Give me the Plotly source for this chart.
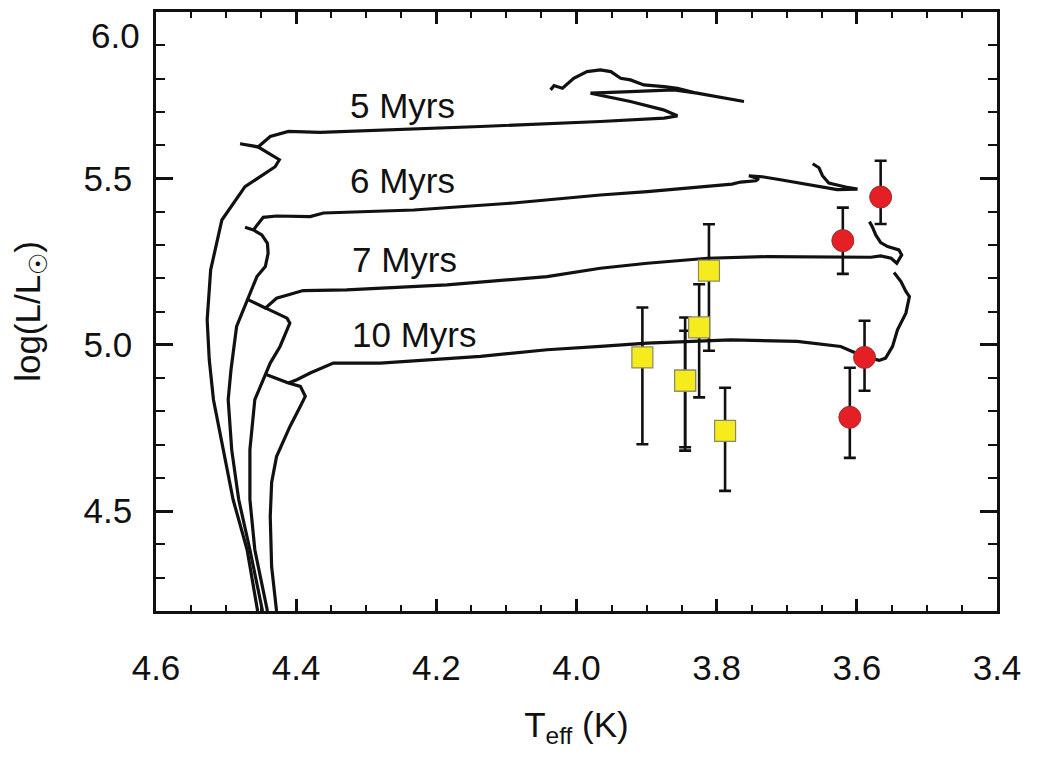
import plotly.graph_objects as go

# ---------------- data (log Teff, log L/Lsun) ----------------
# 5 Myr isochrone
t5_teff = [4.455, 4.470, 4.490, 4.504, 4.518, 4.524, 4.527, 4.522, 4.506, 4.473, 4.430, 4.424,
           4.454, 4.480, 4.454, 4.437, 4.411, 4.366, 4.280, 4.137, 3.966, 3.875, 3.856, 3.876,
           3.923, 3.978, 3.980, 3.923, 3.861, 3.828, 3.761, 3.828, 3.856, 3.875, 3.904, 3.923,
           3.937, 3.951, 3.966, 3.985, 4.004, 4.020, 4.028, 4.032, 4.037]
t5_lum = [4.200, 4.384, 4.535, 4.685, 4.835, 4.955, 5.075, 5.225, 5.375, 5.475, 5.535, 5.556,
          5.594, 5.604, 5.595, 5.626, 5.641, 5.638, 5.644, 5.656, 5.671, 5.681, 5.688, 5.706,
          5.731, 5.753, 5.756, 5.761, 5.766, 5.756, 5.731, 5.756, 5.771, 5.776, 5.781, 5.796,
          5.801, 5.821, 5.826, 5.821, 5.801, 5.771, 5.776, 5.779, 5.766]

# 6 Myr isochrone
t6_teff = [4.448, 4.466, 4.482, 4.492, 4.497, 4.493, 4.485, 4.470, 4.456, 4.444, 4.440, 4.441,
           4.449, 4.461, 4.473, 4.461, 4.447, 4.428, 4.380, 4.361, 4.232, 4.090, 3.966, 3.899,
           3.778, 3.766, 3.744, 3.740, 3.754, 3.735, 3.709, 3.661, 3.628, 3.599, 3.616, 3.640,
           3.649, 3.654, 3.661, 3.663]
t6_lum = [4.200, 4.384, 4.535, 4.685, 4.835, 4.925, 5.055, 5.135, 5.205, 5.235, 5.275, 5.305,
          5.330, 5.345, 5.353, 5.345, 5.383, 5.387, 5.385, 5.396, 5.405, 5.426, 5.450, 5.460,
          5.483, 5.489, 5.493, 5.499, 5.508, 5.505, 5.496, 5.478, 5.466, 5.468, 5.474, 5.486,
          5.508, 5.532, 5.541, 5.544]

# 7 Myr isochrone
t7_teff = [4.441, 4.459, 4.466, 4.466, 4.459, 4.451, 4.437, 4.423, 4.409, 4.413, 4.444, 4.468,
           4.444, 4.428, 4.390, 4.328, 4.185, 4.042, 3.966, 3.899, 3.813, 3.728, 3.623, 3.580,
           3.566, 3.551, 3.543, 3.536, 3.540, 3.556, 3.566, 3.573, 3.578, 3.582]
t7_lum = [4.200, 4.384, 4.535, 4.685, 4.835, 4.875, 4.945, 4.995, 5.065, 5.080, 5.110, 5.135,
          5.110, 5.140, 5.163, 5.165, 5.180, 5.205, 5.230, 5.245, 5.260, 5.265, 5.263, 5.263,
          5.267, 5.260, 5.245, 5.270, 5.285, 5.295, 5.307, 5.330, 5.355, 5.370]

# 10 Myr isochrone
t10_teff = [4.428, 4.435, 4.437, 4.435, 4.428, 4.409, 4.394, 4.387, 4.394, 4.411, 4.442, 4.411,
            4.399, 4.380, 4.347, 4.280, 4.137, 4.042, 3.966, 3.899, 3.780, 3.685, 3.623, 3.590,
            3.568, 3.559, 3.549, 3.542, 3.530, 3.525, 3.530, 3.537, 3.547]
t10_lum = [4.200, 4.333, 4.484, 4.586, 4.664, 4.754, 4.815, 4.845, 4.875, 4.885, 4.910, 4.885,
           4.895, 4.915, 4.945, 4.945, 4.965, 4.985, 4.995, 5.005, 5.015, 5.010, 4.995, 4.965,
           4.953, 4.960, 4.995, 5.045, 5.095, 5.145, 5.160, 5.190, 5.217]

iso_labels = ["5 Myrs", "6 Myrs", "7 Myrs", "10 Myrs"]
label_teff = [4.326, 4.326, 4.323, 4.323]
label_lum = [5.720, 5.494, 5.256, 5.031]

# red supergiants (circles)
rsg_teff = [3.566, 3.620, 3.589, 3.610]
rsg_lum = [5.444, 5.313, 4.962, 4.782]
rsg_err_up = [0.109, 0.099, 0.110, 0.149]
rsg_err_dn = [0.081, 0.100, 0.100, 0.122]

# yellow supergiants (squares)
ysg_teff = [3.906, 3.845, 3.845, 3.825, 3.811, 3.788]
ysg_lum = [4.962, 4.892, 4.892, 5.052, 5.223, 4.741]
ysg_err_up = [0.150, 0.190, 0.150, 0.130, 0.139, 0.130]
ysg_err_dn = [0.261, 0.200, 0.210, 0.210, 0.241, 0.180]

x_ticks = [4.6, 4.4, 4.2, 4.0, 3.8, 3.6, 3.4]
x_ticktext = ["4.6", "4.4", "4.2", "4.0", "3.8", "3.6", "3.4"]
y_ticks = [4.5, 5.0, 5.5]
y_ticktext = ["4.5", "5.0", "5.5"]

FONT = "Liberation Sans, Arial, Helvetica, sans-serif"
INK = "#111111"

fig = go.Figure()

for tx, ty in [(t5_teff, t5_lum), (t6_teff, t6_lum), (t7_teff, t7_lum), (t10_teff, t10_lum)]:
    fig.add_trace(go.Scatter(x=tx, y=ty, mode="lines",
                             line=dict(color=INK, width=3.2), hoverinfo="skip",
                             showlegend=False))

fig.add_trace(go.Scatter(
    x=ysg_teff, y=ysg_lum, mode="markers",
    marker=dict(symbol="square", size=21, color="#f6ec1d", line=dict(color="#8a8a6a", width=1.2)),
    error_y=dict(type="data", symmetric=False, array=ysg_err_up, arrayminus=ysg_err_dn,
                 color=INK, thickness=2.6, width=6),
    showlegend=False))

fig.add_trace(go.Scatter(
    x=rsg_teff, y=rsg_lum, mode="markers",
    marker=dict(symbol="circle", size=22, color="#e41f26", line=dict(color="#9a3030", width=1)),
    error_y=dict(type="data", symmetric=False, array=rsg_err_up, arrayminus=rsg_err_dn,
                 color=INK, thickness=2.6, width=6),
    showlegend=False))

annotations = []
for txt, ax, ay in zip(iso_labels, label_teff, label_lum):
    annotations.append(dict(x=ax, y=ay, xref="x", yref="y", text=txt, showarrow=False,
                            xanchor="left", yanchor="middle",
                            font=dict(family=FONT, size=35, color=INK)))
# the top y label sits slightly below the frame top in the original
annotations.append(dict(x=0, y=5.93, xref="paper", yref="y", text="6.0", showarrow=False,
                        xanchor="right", yanchor="middle", xshift=-14,
                        font=dict(family=FONT, size=35, color=INK)))

# page body has an 8px default margin: size/margins compensate so the frame lands
# at x 156..997, y 12..611 of the window
fig.update_layout(
    width=1027, height=741,
    margin=dict(l=148, r=38, t=4, b=138),
    paper_bgcolor="white", plot_bgcolor="white",
    font=dict(family=FONT, size=35, color=INK),
    annotations=annotations,
    xaxis=dict(
        range=[4.6, 3.4], tickmode="array", tickvals=x_ticks, ticktext=x_ticktext,
        ticks="inside", ticklen=12, tickwidth=2.5, tickcolor=INK,
        minor=dict(tickmode="linear", tick0=3.4, dtick=0.05, ticks="inside", ticklen=6,
                   tickwidth=2, tickcolor=INK, showgrid=False),
        showline=True, linewidth=2.5, linecolor=INK, mirror="ticks",
        showgrid=False, zeroline=False, ticklabelstandoff=24,
        tickfont=dict(family=FONT, size=35, color=INK),
        title=dict(text="T<sub>eff</sub> (K)", font=dict(family=FONT, size=35, color=INK),
                   standoff=30),
        automargin=False,
    ),
    yaxis=dict(
        range=[4.2, 6.0], tickmode="array", tickvals=y_ticks, ticktext=y_ticktext,
        ticks="inside", ticklen=17, tickwidth=2.5, tickcolor=INK,
        minor=dict(tickmode="linear", tick0=4.2, dtick=0.1, ticks="inside", ticklen=9,
                   tickwidth=2, tickcolor=INK, showgrid=False),
        showline=True, linewidth=2.5, linecolor=INK, mirror="ticks",
        showgrid=False, zeroline=False, ticklabelstandoff=14,
        tickfont=dict(family=FONT, size=35, color=INK),
        title=dict(text="log(L/L<sub>☉</sub>)", font=dict(family=FONT, size=35, color=INK),
                   standoff=33),
        automargin=False,
    ),
)

fig.write_html("out.html", config={"displayModeBar": False})
